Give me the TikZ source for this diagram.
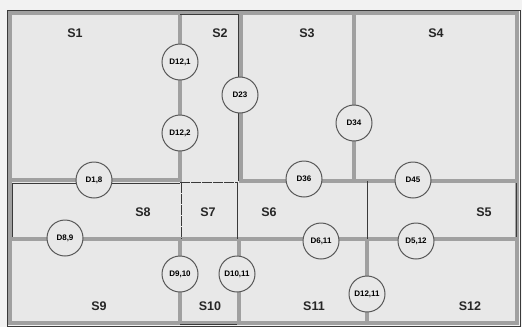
\documentclass[tikz,border=0pt]{standalone}
\usepackage{fontspec}
\setmainfont{Liberation Sans}
\definecolor{wallgray}{HTML}{A0A0A0}
\definecolor{linedark}{HTML}{3A3A3A}
\definecolor{bgc}{HTML}{E8E8E8}
\definecolor{paper}{HTML}{F2F2F2}
\begin{document}
\begin{tikzpicture}[x=1pt,y=-1pt,
  wall/.style={draw=wallgray,line width=4.5pt,line cap=rect},
  thinline/.style={draw=linedark,line width=0.9pt},
  door/.style={circle,draw=linedark!85,line width=1pt,fill=bgc,minimum size=36pt,inner sep=0pt,
    font=\bfseries\fontsize{8}{9}\selectfont},
  room/.style={font=\bfseries\fontsize{12.5}{14}\selectfont,text=black!85}]
\useasboundingbox (0,0) rectangle (522,327);
\fill[paper] (0,0) rectangle (522,327);
\fill[bgc] (9,12) rectangle (518,324);
% outer frame
\draw[thinline] (7,10) rectangle (520,326);
\draw[wall] (10,13) rectangle (517,323);
% upper walls
\draw[wall] (180,13) -- (180,180);
\draw[wall] (241,13) -- (241,181);
\draw[wall] (354,13) -- (354,181);
\draw[wall] (10,180) -- (180,180);
\draw[wall] (241,181) -- (517,181);
% middle long wall
\draw[wall] (10,239) -- (517,239);
% lower walls
\draw[wall] (180,239) -- (180,323);
\draw[wall] (239,239) -- (239,323);
\draw[wall] (367,239) -- (367,323);
% thin lines
\draw[thinline] (180,14) -- (238,14) -- (238,181);
\draw[thinline] (12,237) -- (12,183) -- (180,183);
\draw[thinline,dash pattern=on 10pt off 1pt] (181,183) -- (181,239);
\draw[thinline,dash pattern=on 10pt off 1pt] (180,182.5) -- (238,182.5);
\draw[thinline] (237,182) -- (237,239);
\draw[thinline] (367,181) -- (367,239);
\draw[thinline] (516,183) -- (516,237);
\draw[thinline] (180,324) -- (237,324);
% doors
\node[door] (d121) at (180,62) {D12,1};
\node[door] (d122) at (180,133) {D12,2};
\node[door] (d23) at (240,95) {D23};
\node[door] (d34) at (354,123) {D34};
\node[door] (d18) at (94,180) {D1,8};
\node[door] (d36) at (304,179) {D36};
\node[door] (d45) at (413,180) {D45};
\node[door] (d89) at (65,238) {D8,9};
\node[door] (d611) at (321,241) {D6,11};
\node[door] (d512) at (416,241) {D5,12};
\node[door] (d910) at (180,274) {D9,10};
\node[door] (d1011) at (237,274) {D10,11};
\node[door] (d1211) at (367,294) {D12,11};
% rooms
\node[room] (s1) at (75,33) {S1};
\node[room] (s2) at (220,33) {S2};
\node[room] (s3) at (307,33) {S3};
\node[room] (s4) at (436,33) {S4};
\node[room] (s8) at (143,212) {S8};
\node[room] (s7) at (208,212) {S7};
\node[room] (s6) at (269,212) {S6};
\node[room] (s5) at (484,212) {S5};
\node[room] (s9) at (99,306) {S9};
\node[room] (s10) at (210,306) {S10};
\node[room] (s11) at (314,306) {S11};
\node[room] (s12) at (470,306) {S12};
\end{tikzpicture}
\end{document}
